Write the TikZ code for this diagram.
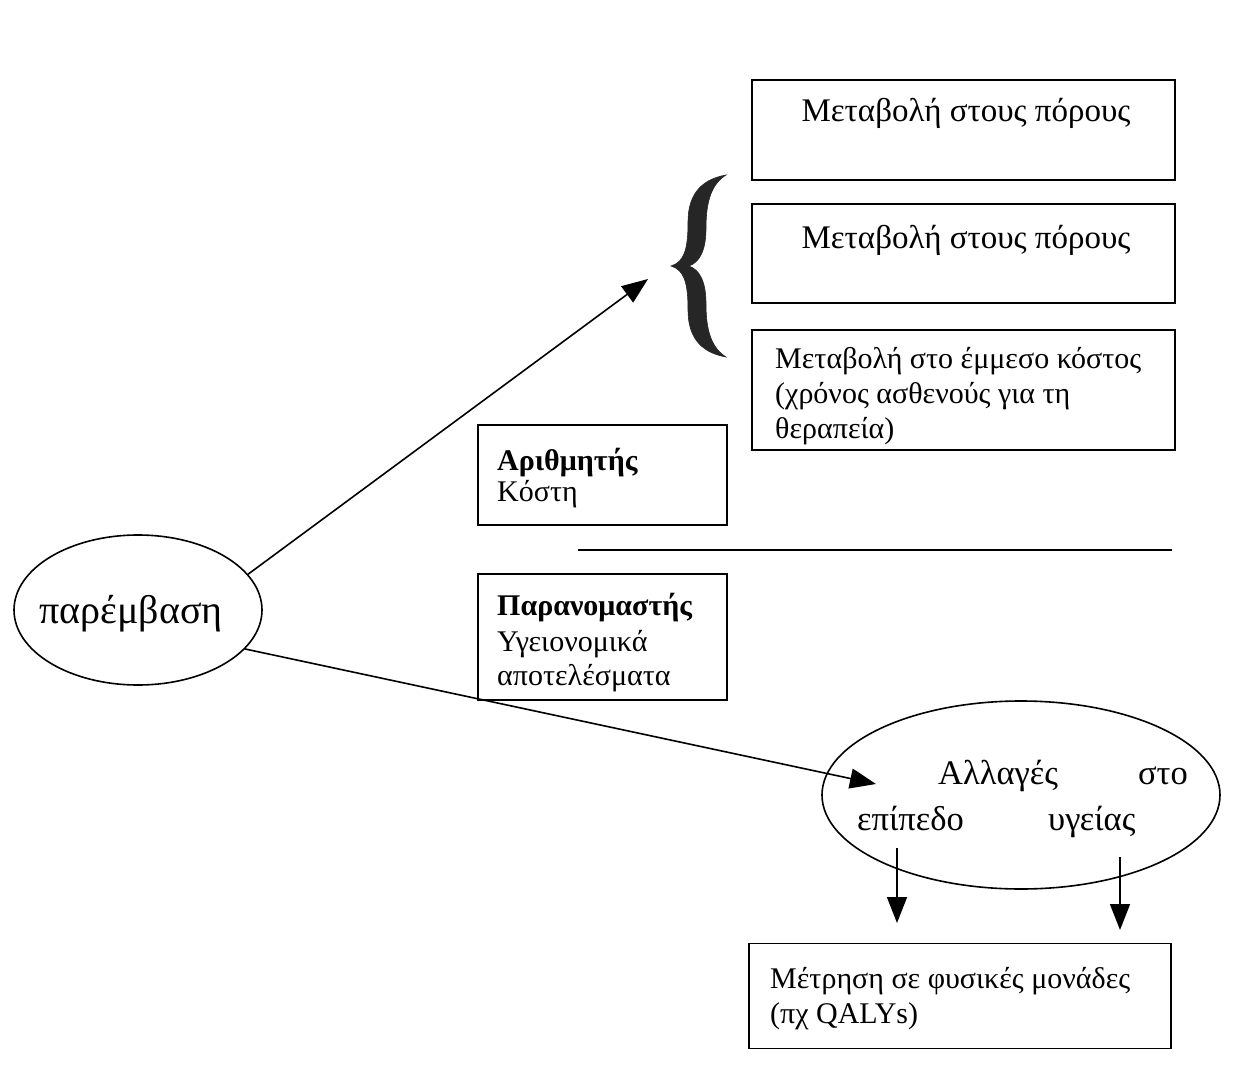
\documentclass[tikz,border=0pt]{standalone}
\usepackage{fontspec}
\setmainfont{Liberation Serif}
\usetikzlibrary{arrows.meta,shapes.geometric}
\begin{document}
\begin{tikzpicture}[x=1pt,y=-1pt,
  box/.style={draw, line width=1.8pt, inner sep=0pt},
  txt/.style={inner sep=0pt, anchor=base west, font=\fontsize{30}{35}\selectfont},
  ctxt/.style={inner sep=0pt, anchor=base, font=\fontsize{33}{38}\selectfont},
  big/.style={font=\fontsize{34.5}{40}\selectfont},
  oval/.style={draw, ellipse, line width=1.6pt, inner sep=0pt},
  arr/.style={line width=1.6pt, -{Triangle[length=26pt,width=20pt]}},
  bracefill/.style={fill=black!85, draw=black!85, line width=0.6pt}]
\useasboundingbox (0,0) rectangle (1245,1070);
% right boxes
\node[box, minimum width=423pt, minimum height=100pt] (b1) at (963.5,130) {};
\node[ctxt] (t1) at (966,122) {Μεταβολή στους πόρους};
\node[box, minimum width=423pt, minimum height=99pt] (b2) at (963.5,253.5) {};
\node[ctxt] (t2) at (966,248) {Μεταβολή στους πόρους};
\node[box, minimum width=423pt, minimum height=120pt] (b3) at (963.5,390) {};
\node[txt] (t3a) at (775,368) {Μεταβολή στο έμμεσο κόστος};
\node[txt] (t3b) at (775,403) {(χρόνος ασθενούς για τη};
\node[txt] (t3c) at (775,438) {θεραπεία)};
% brace
\path[bracefill] (726,175) .. controls (698,180) and (688,198) .. (688,222)
  .. controls (688,250) and (684,262) .. (671,266)
  .. controls (684,270) and (688,282) .. (688,310)
  .. controls (688,334) and (698,352) .. (726,357)
  .. controls (712,348) and (706,332) .. (706,304)
  .. controls (706,282) and (700,270) .. (689,266)
  .. controls (700,262) and (706,250) .. (706,228)
  .. controls (706,200) and (712,184) .. (726,175) -- cycle;
% numerator / denominator
\node[box, minimum width=249pt, minimum height=100pt] (num) at (602.5,475) {};
\node[txt] (n1) at (497,470) {\textbf{Αριθμητής}};
\node[txt] (n2) at (497,501) {Κόστη};
\coordinate (fl) at (578,550);
\coordinate (fr) at (1172,550);
\draw[line width=1.8pt] (fl) -- (fr);
\node[box, minimum width=249pt, minimum height=126pt] (den) at (602.5,637) {};
\node[txt] (d1) at (497,615) {\textbf{Παρανομαστής}};
\node[txt] (d2) at (497,651) {Υγειονομικά};
\node[txt] (d3) at (497,685) {αποτελέσματα};
% ellipses
\node[oval, minimum width=248pt, minimum height=150pt] (e1) at (138,610) {};
\node[inner sep=0pt, anchor=base, font=\fontsize{40}{46}\selectfont] (e1t) at (131,623) {παρέμβαση};
\node[oval, minimum width=398pt, minimum height=188pt] (e2) at (1021,795) {};
\node[inner sep=0pt, anchor=base west, big] (e2a) at (938,784) {Αλλαγές};
\node[inner sep=0pt, anchor=base east, big] (e2b) at (1188,784) {στο};
\node[inner sep=0pt, anchor=base west, big] (e2c) at (857,830) {επίπεδο};
\node[inner sep=0pt, anchor=base west, big] (e2d) at (1048,830) {υγείας};
% bottom box
\node[box, minimum width=422pt, minimum height=105pt] (b4) at (960,996) {};
\node[txt] (b4a) at (770,988) {Μέτρηση σε φυσικές μονάδες};
\node[txt] (b4b) at (770,1023) {(πχ QALYs)};
% arrows
\coordinate (a1) at (648,279);
\coordinate (a2) at (876,784);
\draw[arr] (e1.18) -- (a1);
\draw[arr] (e1.-20) -- (a2);
\coordinate (s3) at (897,848);
\coordinate (s4) at (1120,857);
\coordinate (a3) at (897,923);
\coordinate (a4) at (1120,930);
\draw[arr] (s3) -- (a3);
\draw[arr] (s4) -- (a4);
\end{tikzpicture}
\end{document}
